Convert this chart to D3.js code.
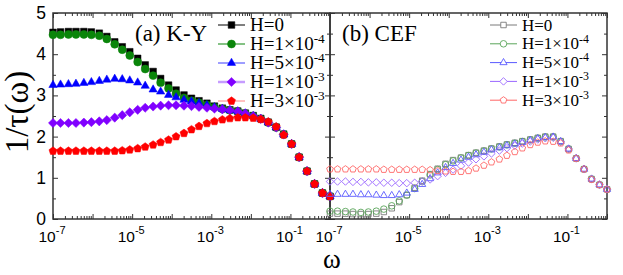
<!DOCTYPE html>
<html>
<head>
<meta charset="utf-8">
<script src="https://cdn.jsdelivr.net/npm/d3@7"></script>
<style>
body { margin: 0; background: #fff; }
text { fill: #000; }
</style>
</head>
<body>
<div id="chart"></div>
<script>
// log10(omega) of every point, same grid in both panels
var logW = [-7.00, -6.81, -6.61, -6.42, -6.22, -6.03, -5.83, -5.64, -5.44, -5.25,
            -5.06, -4.86, -4.67, -4.47, -4.28, -4.08, -3.89, -3.69, -3.50, -3.31,
            -3.11, -2.92, -2.72, -2.53, -2.33, -2.14, -1.94, -1.75, -1.56, -1.36,
            -1.17, -0.97, -0.78, -0.58, -0.39, -0.19, 0.00];

// (a) K-Y : 1/tau for each field
var kyH0    = [4.53, 4.54, 4.55, 4.55, 4.55, 4.54, 4.51, 4.43, 4.30, 4.18, 4.06, 3.90, 3.74, 3.58, 3.41, 3.25, 3.13, 3.01, 2.93, 2.87,
               2.81, 2.74, 2.69, 2.65, 2.62, 2.57, 2.51, 2.44, 2.35, 2.23, 2.06, 1.82, 1.50, 1.16, 0.85, 0.63, 0.55];
var kyH1e4  = [4.47, 4.47, 4.48, 4.48, 4.48, 4.47, 4.45, 4.37, 4.24, 4.11, 3.97, 3.81, 3.64, 3.48, 3.31, 3.17, 3.04, 2.94, 2.87, 2.82,
               2.77, 2.71, 2.67, 2.64, 2.61, 2.56, 2.50, 2.43, 2.34, 2.22, 2.05, 1.82, 1.50, 1.16, 0.85, 0.63, 0.55];
var kyH5e4  = [3.25, 3.26, 3.27, 3.28, 3.30, 3.32, 3.35, 3.38, 3.40, 3.39, 3.36, 3.31, 3.23, 3.14, 3.09, 3.01, 2.95, 2.89, 2.85, 2.81,
               2.76, 2.71, 2.67, 2.64, 2.61, 2.56, 2.50, 2.43, 2.34, 2.22, 2.05, 1.82, 1.50, 1.16, 0.85, 0.63, 0.55];
var kyH1e3  = [2.33, 2.33, 2.33, 2.33, 2.34, 2.35, 2.37, 2.40, 2.46, 2.52, 2.59, 2.65, 2.70, 2.73, 2.75, 2.76, 2.76, 2.75, 2.74, 2.72,
               2.70, 2.68, 2.66, 2.64, 2.61, 2.56, 2.50, 2.43, 2.34, 2.22, 2.05, 1.82, 1.50, 1.16, 0.85, 0.63, 0.55];
var kyH3e3  = [1.65, 1.65, 1.65, 1.65, 1.65, 1.65, 1.65, 1.65, 1.65, 1.66, 1.68, 1.71, 1.75, 1.80, 1.86, 1.92, 2.00, 2.08, 2.17, 2.25,
               2.32, 2.37, 2.41, 2.44, 2.46, 2.46, 2.45, 2.42, 2.36, 2.24, 2.04, 1.82, 1.50, 1.16, 0.85, 0.63, 0.55];

// (b) CEF
var cefH0   = [0.13, 0.13, 0.13, 0.12, 0.12, 0.12, 0.13, 0.17, 0.26, 0.41, 0.58, 0.76, 0.93, 1.09, 1.22, 1.34, 1.43, 1.49, 1.55, 1.61,
               1.66, 1.71, 1.76, 1.81, 1.85, 1.89, 1.93, 1.97, 2.00, 2.00, 1.89, 1.70, 1.47, 1.21, 0.97, 0.83, 0.72];
var cefH1e4 = [0.19, 0.19, 0.18, 0.17, 0.16, 0.17, 0.19, 0.24, 0.32, 0.44, 0.58, 0.74, 0.91, 1.07, 1.20, 1.32, 1.41, 1.48, 1.54, 1.60,
               1.65, 1.70, 1.75, 1.80, 1.84, 1.88, 1.92, 1.96, 1.99, 1.99, 1.88, 1.70, 1.47, 1.21, 0.97, 0.83, 0.72];
var cefH5e4 = [0.60, 0.60, 0.60, 0.60, 0.59, 0.59, 0.58, 0.57, 0.57, 0.59, 0.63, 0.72, 0.84, 0.98, 1.12, 1.25, 1.35, 1.43, 1.50, 1.56,
               1.62, 1.68, 1.73, 1.78, 1.82, 1.86, 1.91, 1.95, 1.98, 1.99, 1.88, 1.70, 1.47, 1.21, 0.97, 0.83, 0.72];
var cefH1e3 = [0.91, 0.91, 0.91, 0.90, 0.90, 0.89, 0.89, 0.88, 0.88, 0.87, 0.87, 0.88, 0.91, 0.96, 1.04, 1.12, 1.20, 1.29, 1.37, 1.45,
               1.52, 1.59, 1.66, 1.72, 1.78, 1.83, 1.88, 1.93, 1.96, 1.97, 1.87, 1.70, 1.47, 1.21, 0.97, 0.83, 0.72];
var cefH3e3 = [1.21, 1.21, 1.21, 1.21, 1.21, 1.21, 1.21, 1.20, 1.20, 1.20, 1.20, 1.20, 1.20, 1.19, 1.17, 1.16, 1.15, 1.15, 1.17, 1.23,
               1.30, 1.38, 1.45, 1.54, 1.63, 1.72, 1.80, 1.86, 1.89, 1.88, 1.84, 1.67, 1.47, 1.21, 0.96, 0.83, 0.72];

// legend text: H = base x 10^exp
var fieldBase = ["0", "1", "5", "1", "3"];
var fieldExp  = [null, "-4", "-4", "-3", "-3"];

var xMajor = [1e-7, 1e-6, 1e-5, 1e-4, 1e-3, 1e-2, 1e-1, 1];
var xLabeled = [1e-7, 1e-5, 1e-3, 1e-1];
var yMajor = [0, 1, 2, 3, 4, 5];
var yMinor = [0.5, 1.5, 2.5, 3.5, 4.5];

// pentagon and square-diamond markers
var symbolPentagon = {
  draw: function(ctx, size) {
    var r = Math.sqrt(size) * 0.62;
    for (var k = 0; k < 5; k++) {
      var a = -Math.PI / 2 + k * 2 * Math.PI / 5;
      if (k === 0) ctx.moveTo(r * Math.cos(a), r * Math.sin(a));
      else ctx.lineTo(r * Math.cos(a), r * Math.sin(a));
    }
    ctx.closePath();
  }
};
var symbolRhomb = {
  draw: function(ctx, size) {
    var r = Math.sqrt(size / 2);
    ctx.moveTo(0, -r);
    ctx.lineTo(r, 0);
    ctx.lineTo(0, r);
    ctx.lineTo(-r, 0);
    ctx.closePath();
  }
};

var shapes = [d3.symbolSquare, d3.symbolCircle, d3.symbolTriangle, symbolRhomb, symbolPentagon];
var kySize  = [44, 50, 30, 42, 46];
var cefSize = [30, 34, 22, 28, 32];
var kyColors  = ["#000000", "#0a850a", "#0000ff", "#8000ff", "#ff0000"];
var kyLine    = ["#000000", "#0a850a", "#3c3cff", "#c69cff", "#ff8080"];
var cefColors = ["#7a7a7a", "#5aa55a", "#5a5aff", "#9a66ff", "#ff6666"];

var kySeries = [kyH0, kyH1e4, kyH5e4, kyH1e3, kyH3e3];
var cefSeries = [cefH0, cefH1e4, cefH5e4, cefH1e3, cefH3e3];

var svg = d3.select("#chart").append("svg")
  .attr("width", 623)
  .attr("height", 275);

var y = d3.scaleLinear().domain([0, 5]).range([219, 13]);
var xL = d3.scaleLog().domain([1e-7, 1]).range([53, 330]);
var xR = d3.scaleLog().domain([1e-7, 1]).range([330, 607]);

var xMinor = [];
xMajor.slice(0, 7).forEach(function(d) {
  for (var k = 2; k <= 9; k++) xMinor.push(d * k);
});

function frame(x) {
  var x0 = x.range()[0], x1 = x.range()[1];
  var g = svg.append("g").attr("class", "frame");

  // ticks point inward on all four sides
  g.append("g").attr("transform", "translate(0,219)")
    .call(d3.axisBottom(x).tickValues(xMajor).tickSize(-5).tickSizeOuter(0).tickFormat(""));
  g.append("g").attr("transform", "translate(0,219)")
    .call(d3.axisBottom(x).tickValues(xMinor).tickSize(-3).tickSizeOuter(0).tickFormat(""));
  g.append("g").attr("transform", "translate(0,13)")
    .call(d3.axisTop(x).tickValues(xMajor).tickSize(-5).tickSizeOuter(0).tickFormat(""));
  g.append("g").attr("transform", "translate(0,13)")
    .call(d3.axisTop(x).tickValues(xMinor).tickSize(-3).tickSizeOuter(0).tickFormat(""));
  g.append("g").attr("transform", "translate(" + x0 + ",0)")
    .call(d3.axisLeft(y).tickValues(yMajor).tickSize(-5).tickSizeOuter(0).tickFormat(""));
  g.append("g").attr("transform", "translate(" + x0 + ",0)")
    .call(d3.axisLeft(y).tickValues(yMinor).tickSize(-3).tickSizeOuter(0).tickFormat(""));
  g.append("g").attr("transform", "translate(" + x1 + ",0)")
    .call(d3.axisRight(y).tickValues(yMajor).tickSize(-5).tickSizeOuter(0).tickFormat(""));
  g.append("g").attr("transform", "translate(" + x1 + ",0)")
    .call(d3.axisRight(y).tickValues(yMinor).tickSize(-3).tickSizeOuter(0).tickFormat(""));

  g.selectAll(".domain").remove();
  g.selectAll(".tick line").attr("stroke", "#333").attr("stroke-width", 1);

  g.append("rect")
    .attr("x", x0).attr("y", 13)
    .attr("width", x1 - x0).attr("height", 206)
    .attr("fill", "none")
    .attr("stroke", "#333")
    .attr("stroke-width", 1.5);

  // x tick labels 10^n
  xLabeled.forEach(function(v) {
    var t = svg.append("text")
      .attr("x", x(v) - 1).attr("y", 242)
      .attr("text-anchor", "middle")
      .style("font-family", "'Liberation Sans', Arial, sans-serif")
      .style("font-size", "15.5px")
      .text("10");
    t.append("tspan")
      .attr("dy", -8)
      .style("font-size", "11px")
      .text(String(Math.round(Math.log10(v))));
  });
}

frame(xL);
frame(xR);

// y tick labels
svg.selectAll(".ylab")
  .data(yMajor)
  .enter().append("text")
  .attr("class", "ylab")
  .attr("x", 46)
  .attr("y", function(d) { return y(d); })
  .attr("dy", "0.34em")
  .attr("text-anchor", "end")
  .style("font-family", "'Liberation Sans', Arial, sans-serif")
  .style("font-size", "17.5px")
  .text(function(d) { return d; });

// axis titles
svg.append("text")
  .attr("transform", "translate(28,112) rotate(-90)")
  .attr("text-anchor", "middle")
  .style("font-family", "'Liberation Serif', 'Times New Roman', serif")
  .style("font-size", "33px")
  .text("1/\u03c4(\u03c9)");

svg.append("text")
  .attr("x", 332).attr("y", 268)
  .attr("text-anchor", "middle")
  .style("font-family", "'Liberation Serif', 'Times New Roman', serif")
  .style("font-size", "27px")
  .text("\u03c9");

// data markers
function drawSeries(x, series, colors, sizes, open) {
  series.forEach(function(vals, s) {
    var pts = vals.map(function(v, i) { return {w: Math.pow(10, logW[i]), v: v}; });
    svg.append("g").selectAll("path")
      .data(pts)
      .enter().append("path")
      .attr("transform", function(d) { return "translate(" + x(d.w) + "," + y(d.v) + ")"; })
      .attr("d", d3.symbol().type(shapes[s]).size(sizes[s]))
      .attr("fill", open ? "none" : colors[s])
      .attr("stroke", colors[s])
      .attr("stroke-width", open ? 0.9 : 0.5);
  });
}

drawSeries(xL, kySeries, kyColors, kySize, false);
drawSeries(xR, cefSeries, cefColors, cefSize, true);

// panel labels
svg.append("text")
  .attr("x", 135).attr("y", 41)
  .style("font-family", "'Liberation Serif', 'Times New Roman', serif")
  .style("font-size", "23px")
  .text("(a) K-Y");

svg.append("text")
  .attr("x", 342).attr("y", 41)
  .style("font-family", "'Liberation Serif', 'Times New Roman', serif")
  .style("font-size", "23px")
  .text("(b) CEF");

// legends
function legend(lx, ly, dy, fs, colors, lineColors, sizes, open) {
  fieldBase.forEach(function(b, s) {
    var cy = ly + s * dy;
    svg.append("line")
      .attr("x1", lx).attr("x2", lx + 27)
      .attr("y1", cy).attr("y2", cy)
      .attr("stroke", lineColors[s])
      .attr("stroke-width", s === 3 && !open ? 2.5 : 1);
    svg.append("path")
      .attr("transform", "translate(" + (lx + 13.5) + "," + cy + ")")
      .attr("d", d3.symbol().type(shapes[s]).size(sizes[s]))
      .attr("fill", open ? "#fff" : colors[s])
      .attr("stroke", colors[s])
      .attr("stroke-width", open ? 0.9 : 0.5);
    var t = svg.append("text")
      .attr("x", lx + 32).attr("y", cy + fs * 0.33)
      .style("font-family", "'Liberation Serif', 'Times New Roman', serif")
      .style("font-size", fs + "px")
      .text(fieldExp[s] ? "H=" + b + "\u00d710" : "H=" + b);
    if (fieldExp[s]) {
      t.append("tspan")
        .attr("dy", -fs * 0.4)
        .style("font-size", (fs * 0.7) + "px")
        .text(fieldExp[s]);
    }
  });
}

legend(218, 25, 19, 19, kyColors, kyLine, kySize, false);
legend(490, 25, 18.8, 17, cefColors, cefColors, cefSize, true);
</script>
</body>
</html>
